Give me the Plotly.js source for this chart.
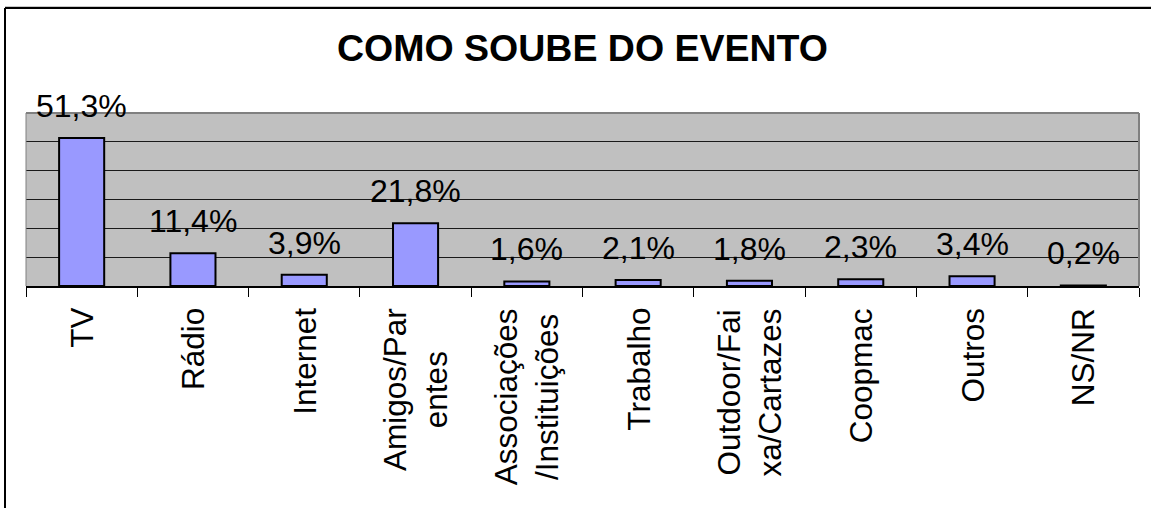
<!DOCTYPE html>
<html>
<head>
<meta charset="utf-8">
<script src="https://cdn.plot.ly/plotly-3.0.1.min.js"></script>
<style>
  html, body { margin: 0; padding: 0; background: #ffffff; }
  #chart { width: 1151px; height: 508px; }
</style>
</head>
<body>
<div id="chart"></div>
<script>
// ---- data ----
const categories = ["TV", "Rádio", "Internet", "Amigos/Partentes", "Associações/Instituições",
                    "Trabalho", "Outdoor/Faixa/Cartazes", "Coopmac", "Outros", "NS/NR"];
const tickLabels = ["TV", "Rádio", "Internet", "Amigos/Par<br>entes", "Associações<br>/Instituições",
                    "Trabalho", "Outdoor/Fai<br>xa/Cartazes", "Coopmac", "Outros", "NS/NR"];
const values = [51.3, 11.4, 3.9, 21.8, 1.6, 2.1, 1.8, 2.3, 3.4, 0.2];
const valueLabels = ["51,3%", "11,4%", "3,9%", "21,8%", "1,6%", "2,1%", "1,8%", "2,3%", "3,4%", "0,2%"];
const chartTitle = "COMO SOUBE DO EVENTO";

// ---- layout constants (pixels) ----
const W = 1151, H = 508;
const mL = 26, mR = 12, mT = 113, mB = 222;
const pw = W - mL - mR, ph = H - mT - mB;
const px2x = p => (p - mL) / pw;
const py2y = p => (H - mB - p) / ph;

const FONT = "Liberation Sans, Arial, sans-serif";

const trace = {
  type: "bar",
  x: categories,
  y: values,
  marker: { color: "#9999FF", line: { color: "#000000", width: 2 } },
  hoverinfo: "none"
};

const annotations = [];
categories.forEach((c, i) => {
  annotations.push({
    x: c, y: values[i], xref: "x", yref: "y",
    text: valueLabels[i], showarrow: false,
    yanchor: "bottom", xanchor: "center", yshift: 12,
    font: { family: FONT, size: 32, color: "#000000" }
  });
  annotations.push({
    x: c, y: 0, xref: "x", yref: "paper",
    text: tickLabels[i], showarrow: false, textangle: -90,
    yanchor: "top", xanchor: "center", yshift: -20, align: "center",
    font: { family: FONT, size: 31.5, color: "#000000" }
  });
});

const layout = {
  width: W, height: H,
  margin: { l: mL, r: mR, t: mT, b: mB, pad: 0 },
  paper_bgcolor: "#ffffff",
  plot_bgcolor: "#C0C0C0",
  bargap: 0.595,
  showlegend: false,
  title: {
    text: "<b>" + chartTitle + "</b>",
    font: { family: FONT, size: 37.5, color: "#000000" },
    x: 0.5, xref: "paper", xanchor: "center",
    y: 1 - 48 / H, yref: "container", yanchor: "middle"
  },
  xaxis: {
    type: "category",
    showticklabels: false,
    tickson: "boundaries",
    ticks: "outside", ticklen: 9, tickwidth: 1, tickcolor: "#000000",
    showgrid: false,
    showline: true, linecolor: "#000000", linewidth: 1.5,
    zeroline: false,
    fixedrange: true
  },
  yaxis: {
    range: [0, 60], dtick: 10, tick0: 0,
    showticklabels: false, ticks: "",
    showgrid: true, gridcolor: "#1a1a1a", gridwidth: 1,
    zeroline: false, showline: false,
    fixedrange: true
  },
  annotations: annotations,
  shapes: [
    { type: "line", xref: "paper", yref: "paper", x0: 0, x1: 1, y0: 1, y1: 1,
      line: { color: "#808080", width: 2 } },
    { type: "line", xref: "paper", yref: "paper", x0: 1, x1: 1, y0: 0, y1: 1,
      line: { color: "#808080", width: 2 } },
    { type: "line", xref: "paper", yref: "paper", x0: 0, x1: 0, y0: 0, y1: 1,
      line: { color: "#808080", width: 1 } },
    { type: "line", xref: "paper", yref: "paper", x0: px2x(5), x1: px2x(5), y0: py2y(8), y1: py2y(H + 5),
      line: { color: "#000000", width: 2 } },
    { type: "line", xref: "paper", yref: "paper", x0: px2x(5), x1: px2x(W + 5), y0: py2y(8), y1: py2y(8),
      line: { color: "#000000", width: 2 } },
    { type: "line", xref: "paper", yref: "paper", x0: px2x(5), x1: px2x(W + 5), y0: py2y(6.5), y1: py2y(6.5),
      line: { color: "#c8c8c8", width: 1 } }
  ]
};

Plotly.newPlot("chart", [trace], layout, { displayModeBar: false, staticPlot: true });
</script>
</body>
</html>
